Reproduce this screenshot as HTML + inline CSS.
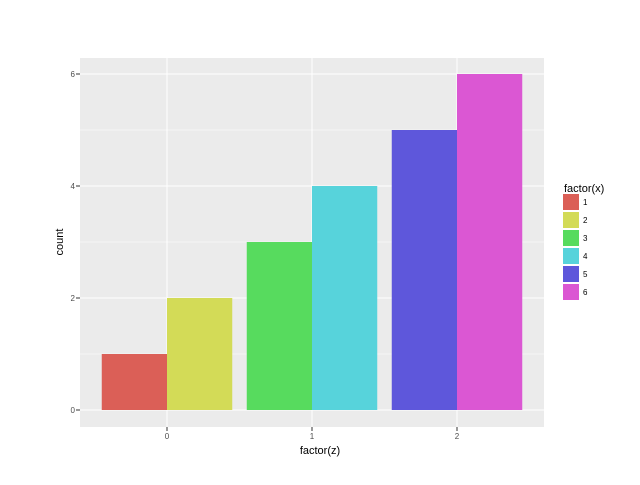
<!DOCTYPE html>
<html><head><meta charset="utf-8"><style>
body{margin:0;background:#fff;font-family:"Liberation Sans","DejaVu Sans",sans-serif}
</style></head><body>
<svg id="chart" width="640" height="480" xmlns="http://www.w3.org/2000/svg">
<rect width="640" height="480" fill="#fff"/>
<rect x="80" y="58" width="464" height="369" fill="#ebebeb"/>
<g id="grid"></g><g id="bars"></g><g id="axes"></g><g id="legend"></g>
<text x="320" y="454" font-size="11" text-anchor="middle">factor(z)</text>
<text x="63" y="242" font-size="11" text-anchor="middle" transform="rotate(-90 63 242)">count</text>
</svg>
<script>
const categories=["0","1","2"];
const groups=["1","2","3","4","5","6"];
const counts=[1,2,3,4,5,6];
const barCategory=[0,0,1,1,2,2];
const barSlot=[0,1,0,1,0,1];
const colors=["#db5f57","#d3db57","#57db5e","#57d3db","#5e57db","#db57d3"];
const yTicks=[0,2,4,6];
const yMinor=[1,3,5];
const NS="http://www.w3.org/2000/svg";
const xs=i=>167+145*i, ys=v=>410-56*v;
function mk(p,t,a){const e=document.createElementNS(NS,t);for(const k in a)e.setAttribute(k,a[k]);document.getElementById(p).appendChild(e);return e;}
yMinor.forEach(v=>{const l=mk('grid','line',{x1:80,x2:544,y1:ys(v),y2:ys(v),stroke:'#fff','stroke-width':0.5});

});
yTicks.forEach(v=>{const l=mk('grid','line',{x1:80,x2:544,y1:ys(v),y2:ys(v),stroke:'#fff','stroke-width':1});


const t=mk('axes','text',{x:75,y:ys(v)+3,'font-size':8,fill:'#4d4d4d','text-anchor':'end'});t.textContent=v;


mk('axes','line',{x1:76,x2:80,y1:ys(v),y2:ys(v),stroke:'#333'});});
categories.forEach((c,i)=>{const l=mk('grid','line',{x1:xs(i),x2:xs(i),y1:58,y2:427,stroke:'#fff','stroke-width':1});


mk('axes','line',{x1:xs(i),x2:xs(i),y1:427,y2:431,stroke:'#333'});
const t=mk('axes','text',{x:xs(i),y:439,'font-size':8,fill:'#4d4d4d','text-anchor':'middle'});t.textContent=c;

});
const bw=145*0.45;
counts.forEach((v,i)=>{const x0=xs(barCategory[i])-bw+barSlot[i]*bw;
const r=mk('bars','rect',{x:x0,y:ys(v),width:bw,height:ys(0)-ys(v),fill:colors[i]});

});
const lt=mk('legend','text',{x:564,y:192,'font-size':11});lt.textContent='factor(x)';


groups.forEach((g,i)=>{const y=194+i*18;
const k=mk('legend','rect',{x:563,y:y,width:16,height:16,fill:colors[i]});


const t=mk('legend','text',{x:583,y:y+11,'font-size':8});t.textContent=g;

});
</script>
</body></html>
